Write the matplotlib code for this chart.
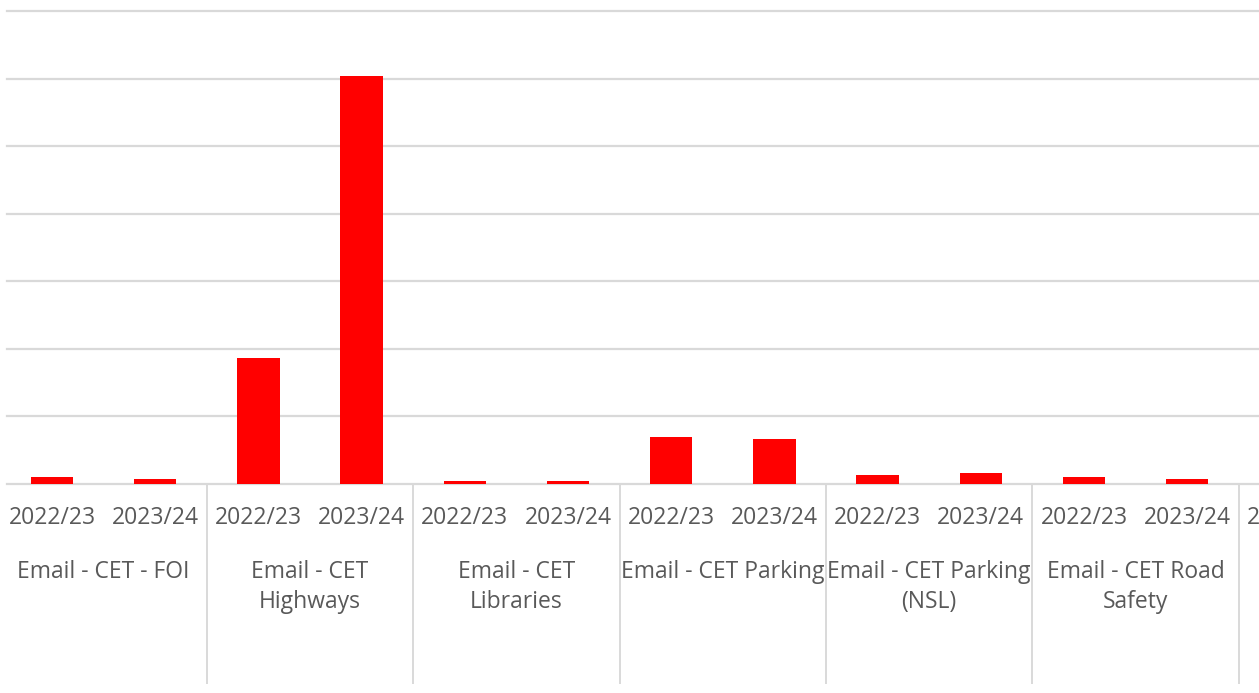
import matplotlib.pyplot as plt
from matplotlib.transforms import blended_transform_factory

# Data (y-axis is cropped, so values are in gridline units x100)
groups = ['Email - CET - FOI', 'Email - CET\nHighways', 'Email - CET\nLibraries',
          'Email - CET Parking', 'Email - CET Parking\n(NSL)', 'Email - CET Road\nSafety']
years = ['2022/23', '2023/24']
values = [11, 8, 186, 604, 5, 5, 70, 67, 14, 17, 11, 8]

red = '#FF0000'
grid_grey = '#D9D9D9'
text_grey = '#595959'

plt.rcParams['font.family'] = ['Open Sans', 'DejaVu Sans']

fig = plt.figure(figsize=(12.59, 6.93), dpi=100)
ax = fig.add_axes([0, (693 - 484) / 693, 1, (484 - 11) / 693])

x = list(range(len(values)))
ax.bar(x, values, width=0.41, color=red, zorder=3)

# year tick labels
ax.set_xticks(x)
ax.set_xticklabels([years[i % 2] for i in x], fontsize=16.5, color=text_grey)
ax.tick_params(axis='x', length=0, pad=16)

ax.set_xlim(-52 / 103.2, (1259 - 52) / 103.2)
ax.set_ylim(0, 700)

# gridlines (start a few pixels in from the left edge)
for yv in range(0, 701, 100):
    ax.axhline(yv, xmin=7 / 1259, color=grid_grey, lw=1.6, zorder=1, clip_on=False)

for s in ax.spines.values():
    s.set_visible(False)
ax.set_yticks([])

trans = blended_transform_factory(ax.transData, ax.transAxes)

# next group's first year label, cut off by the right edge of the picture
lbl = ax.get_xticklabels()[0]
ax.annotate(years[0], xy=(len(values), 0), xycoords=trans, xytext=(0, -16),
            textcoords='offset points', ha='center', va='top',
            fontsize=16.5, color=text_grey, annotation_clip=False)

# group dividers below the axis
for k in range(len(groups)):
    xd = 2 * k + 1.5
    ax.plot([xd, xd], [0, -(683 - 484) / 473], transform=trans, color=grid_grey,
            lw=1.4, clip_on=False)

# group names
for k, name in enumerate(groups):
    ax.text(2 * k + 0.5, -(560 - 484) / 473, name, transform=trans, ha='center', va='top',
            fontsize=16.5, color=text_grey, linespacing=1.35)

fig.savefig('out.png', dpi=100)
